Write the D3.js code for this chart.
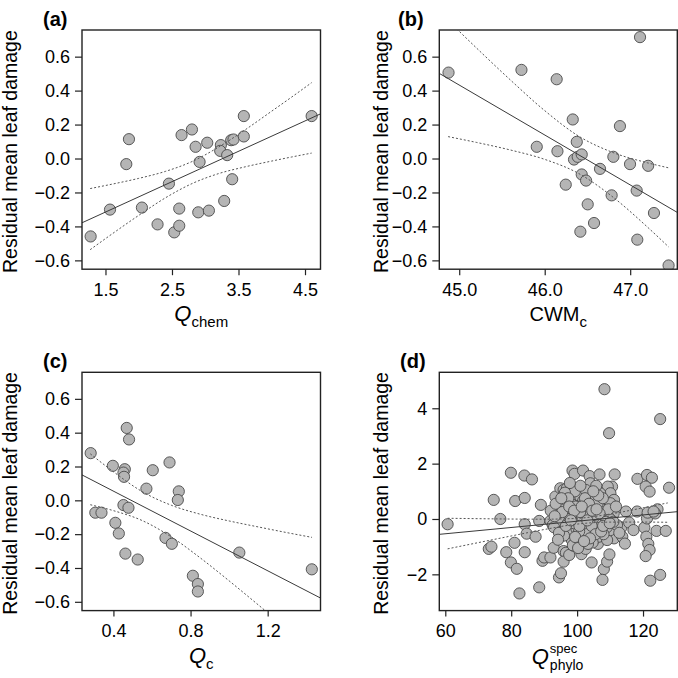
<!DOCTYPE html>
<html><head><meta charset="utf-8">
<script src="https://cdn.jsdelivr.net/npm/d3@7"></script>
<style>
body{margin:0;background:#fff}
svg{display:block}
text{font-family:"Liberation Sans",Arial,Helvetica,sans-serif;fill:#000}
</style>
</head><body><div id="chart"></div>
<script>
// ---------------- DATA ----------------
// Panel (a): Q_chem vs residual mean leaf damage
const aPoints = [[1.277,-0.459],[1.568,-0.301],[1.853,0.114],[1.813,-0.033],[2.048,-0.289],[2.283,-0.388],[2.454,-0.148],[2.534,-0.435],[2.609,-0.396],[2.609,-0.295],[2.644,0.138],[2.80,0.171],[2.855,0.069],[2.895,-0.317],[2.915,-0.020],[3.03,0.093],[3.055,-0.307],[3.235,0.079],[3.225,0.045],[3.285,-0.25],[3.33,0.020],[3.39,0.108],[3.425,0.112],[3.405,-0.122],[3.58,0.25],[3.58,0.130],[4.60,0.25]];
const aFitX = [1.10, 4.75];
const aFitY = [-0.387, 0.266];
const aBandX = [1.27,1.6,2.0,2.4,2.8,3.2,3.6,4.0,4.3,4.6];
const aUpper = [-0.177,-0.151,-0.117,-0.076,-0.018,0.067,0.169,0.279,0.362,0.447];
const aLower = [-0.537,-0.444,-0.335,-0.232,-0.148,-0.089,-0.049,-0.015,0.009,0.032];
const aXTicks = [1.5,2.5,3.5,4.5];

// Panel (b): CWM_c
const bPoints = [[44.875,0.506],[45.728,0.522],[46.14,0.467],[45.907,0.069],[46.149,0.043],[46.328,0.230],[46.375,0.098],[46.343,-0.006],[46.386,0.010],[46.433,0.024],[46.246,-0.154],[46.433,-0.094],[46.484,-0.130],[46.503,-0.270],[46.417,-0.431],[46.577,-0.380],[46.647,-0.061],[46.803,0.010],[46.783,-0.217],[46.88,0.191],[46.998,-0.033],[47.076,-0.189],[47.083,-0.478],[47.21,-0.043],[47.115,0.715],[47.278,-0.321],[47.449,-0.630]];
const bFitX = [44.70, 47.60];
const bFitY = [0.521, -0.332];
const bBandX = [44.87,45.2,45.6,46.0,46.4,46.8,47.2,47.45];
const bUpper = [0.813,0.652,0.462,0.282,0.131,0.035,-0.025,-0.055];
const bLower = [0.129,0.095,0.050,-0.005,-0.089,-0.228,-0.403,-0.521];
const bXTicks = [45.0,46.0,47.0];

// Panel (c): Q_c
const cPoints = [[0.282,0.279],[0.306,-0.073],[0.338,-0.073],[0.397,0.204],[0.410,-0.133],[0.428,-0.196],[0.452,-0.028],[0.459,0.184],[0.452,0.164],[0.455,0.139],[0.469,0.428],[0.481,0.360],[0.478,-0.044],[0.462,-0.315],[0.526,-0.350],[0.571,0.069],[0.604,0.178],[0.670,-0.222],[0.703,-0.257],[0.691,0.224],[0.739,0.053],[0.734,0.002],[0.812,-0.446],[0.838,-0.495],[0.838,-0.539],[1.053,-0.309],[1.429,-0.408]];
const cFitX = [0.20, 1.50];
const cFitY = [0.172, -0.593];
const cBandX = [0.28,0.4,0.55,0.7,0.85,1.0,1.15,1.3,1.43];
const cUpper = [0.275,0.169,0.051,-0.029,-0.082,-0.122,-0.157,-0.191,-0.219];
const cLower = [-0.026,-0.061,-0.120,-0.216,-0.340,-0.476,-0.617,-0.760,-0.886];
const cXTicks = [0.4,0.8,1.2];

// Panel (d): Q_phylo^spec
const dPoints = [[60.7,-0.19],[74.7,0.69],[73.2,-1.08],[74.0,-1.0],[76.7,0.0],[78.5,-1.2],[79.9,1.67],[81.2,0.65],[79.9,-1.57],[81.0,-0.86],[81.7,-1.8],[82.5,-2.69],[84.0,1.57],[86.3,1.43],[84.1,0.76],[84.1,-0.19],[84.7,-0.53],[84.1,-1.2],[87.4,-0.64],[88.5,-2.47],[89.0,0.51],[88.5,-0.07],[89.5,-1.51],[90.0,-1.39],[91.9,-1.39],[92.9,-1.04],[94.5,-2.11],[95.1,-1.96],[95.9,-1.16],[96.6,-1.22],[95.9,-1.54],[97.6,-1.30],[98.8,-0.96],[98.6,1.75],[99.2,1.63],[101.8,1.75],[103.8,1.55],[103.5,1.17],[106.8,1.61],[108.3,4.69],[109.7,3.10],[111.4,1.61],[110.6,1.17],[109.3,1.17],[110.1,0.93],[101.3,-1.27],[102.6,-1.08],[104.4,-1.57],[106.3,-0.90],[108.1,-1.81],[109.1,-1.54],[107.7,-2.20],[109.8,-1.28],[111.2,-0.70],[111.2,0.69],[113.4,-0.31],[114.8,0.27],[113.7,-0.64],[114.5,-0.89],[115.8,-0.13],[117.1,-0.40],[118.2,0.27],[118.3,1.45],[120.4,-0.31],[121.2,1.59],[122.7,1.49],[120.8,1.17],[122.0,0.99],[121.2,0.02],[121.4,0.23],[121.0,-0.64],[121.6,-0.90],[122.0,-1.12],[120.8,-1.34],[122.2,-2.23],[125.2,-2.02],[125.2,3.61],[127.9,1.13],[124.4,0.35],[123.7,0.20],[124.1,-0.43],[126.9,-0.43],[123.2,0.27],
[91.9,-0.07],[92.6,-0.22],[93.4,0.81],[94.9,1.11],[95.9,1.05],[96.9,1.11],[94.4,0.45],[95.9,0.20],[95.4,-0.40],[96.9,-0.52],[97.9,-0.28],[98.4,0.57],[99.9,0.81],[100.4,1.11],[103.0,0.87],[104.0,1.29],[105.5,0.57],[107.0,0.93],[108.1,0.51],[109.1,0.20],[110.1,0.57],[111.1,0.20],[108.1,0.20],[106.6,-0.10],[105.5,-0.28],[104.0,-0.04],[103.0,-0.64],[101.5,-0.76],[99.9,-0.88],[98.4,-0.76],[105.0,-0.76],[106.6,-0.64],[109.1,-0.76],[110.1,-0.40],[112.1,-0.22],
[98,0.3],[99,0.1],[99.5,-0.2],[100,0.4],[100.5,0.0],[101,-0.3],[101.5,0.2],[102,0.5],[102.5,-0.1],[103,0.3],[103.5,-0.4],[104,0.1],[104.5,0.6],[105,-0.2],[105.5,0.3],[106,0.0],[97,0.0],[97.5,-0.3],[96,0.5],[96.5,0.7],[95,-0.1],[94,0.2],[93,-0.3],[92,0.3],[98.5,-0.5],[99,0.7],[100,-0.6],[101,0.8],[102,-0.4],[103,0.9],[104,-0.5],[105,0.8],[106,-0.4],[107,0.4],[107.5,-0.2],[108.5,0.1],[109,-0.3],[110,0.0],[96,-0.6],[97,0.9],[100.2,0.15],[101.2,-0.05],[102.2,0.25],[103.2,-0.25],[104.2,0.35],[99.8,-0.35],[98.2,0.55],[97.2,-0.15],[101.8,0.65],[103.8,0.05],[100.8,0.45],[102.8,-0.55],[105.2,0.15],[106.2,0.55],[94.5,-0.5],[93.5,0.55],[95.5,0.25],[108,-0.55],[109.5,0.35],[111,-0.1],[99.3,1.0],[102.6,1.05],[104.7,-0.85],[98.7,-0.95],[101,1.2],[97.8,1.3],[105.8,1.2],[100.3,-1.05],[103.3,-0.9],
[96.3,0.95],[97.3,0.75],[99.6,0.45],[100.6,-0.45],[102.4,0.75],[104.4,-0.25],[105.6,-0.55],[106.8,0.2],[107.8,0.75],[98.9,-0.15],[101.6,0.05],[103.6,0.55],[102.9,0.15],[100.9,0.25],[99.4,-0.65],[97.6,0.45],[96.6,-0.25],[95.2,0.75],[94.2,-0.75],[93.2,0.1],[108.8,-0.1],[107.3,-0.45],[106.4,0.85],[104.9,1.0],[103.9,-0.7],[102.1,-0.8],[100.7,-0.25],[99.1,0.3],[98.1,-0.05],[101.4,0.45],[103.1,-0.05],[104.6,0.3],[105.9,0.35],[107.9,-0.25],[109.9,-0.15],[111.8,0.45],[112.8,-0.5]];
const dFitX = [58.0, 131.0];
const dFitY = [-0.557, 0.271];
const dBandX = [60.7,70,80,90,100,110,120,127.5];
const dUpper = [0.026,0.0115,-0.0017,-0.0075,0.0225,0.178,0.403,0.581];
const dLower = [-1.079,-0.854,-0.614,-0.381,-0.184,-0.113,-0.111,-0.119];
const dXTicks = [60,80,100,120];

const yTicksABC = [-0.6,-0.4,-0.2,0.0,0.2,0.4,0.6];
const yTicksD = [-2,0,2,4];
const yTitle = "Residual mean leaf damage";
const panelLabels = ["(a)","(b)","(c)","(d)"];

// ---------------- DRAW ----------------
const svg = d3.select('#chart').append('svg').attr('width',678).attr('height',678);
svg.append('rect').attr('width',678).attr('height',678).attr('fill','#fff');

const colL = [82, 320.5], colR = [439.3, 677.3];
const rowT = [30, 269.2], rowB = [372.3, 610.6];

const panels = [
  {id:'a', label:panelLabels[0], xr:colL, yr:rowT, xd:[1.147,4.733], yd:[-0.652,0.757], pts:aPoints, fx:aFitX, fy:aFitY, bx:aBandX, bu:aUpper, bl:aLower, xt:aXTicks, yt:yTicksABC, xf:d3.format('.1f'), yf:d3.format('.1f'), title:'chem', lblX:43, ytX:17},
  {id:'b', label:panelLabels[1], xr:colR, yr:rowT, xd:[44.767,47.551], yd:[-0.652,0.757], pts:bPoints, fx:bFitX, fy:bFitY, bx:bBandX, bu:bUpper, bl:bLower, xt:bXTicks, yt:yTicksABC, xf:d3.format('.1f'), yf:d3.format('.1f'), title:'cwm', lblX:398, ytX:388},
  {id:'c', label:panelLabels[2], xr:colL, yr:rowB, xd:[0.237,1.474], yd:[-0.652,0.757], pts:cPoints, fx:cFitX, fy:cFitY, bx:cBandX, bu:cUpper, bl:cLower, xt:cXTicks, yt:yTicksABC, xf:d3.format('.1f'), yf:d3.format('.1f'), title:'c', lblX:43, ytX:17},
  {id:'d', label:panelLabels[3], xr:colR, yr:rowB, xd:[58.18,130.4], yd:[-3.31,5.30], pts:dPoints, fx:dFitX, fy:dFitY, bx:dBandX, bu:dUpper, bl:dLower, xt:dXTicks, yt:yTicksD, xf:d3.format('d'), yf:d3.format('d'), title:'phylo', lblX:400, ytX:388}
];

const TICKFONT = 18;

panels.forEach(p => {
  const x = d3.scaleLinear().domain(p.xd).range(p.xr);
  const y = d3.scaleLinear().domain(p.yd).range([p.yr[1], p.yr[0]]);
  const g = svg.append('g');
  const clipId = 'clip-' + p.id;
  svg.append('defs').append('clipPath').attr('id', clipId)
    .append('rect').attr('x', p.xr[0]).attr('y', p.yr[0])
    .attr('width', p.xr[1]-p.xr[0]).attr('height', p.yr[1]-p.yr[0]);
  const plot = g.append('g').attr('clip-path', `url(#${clipId})`);

  plot.selectAll('circle').data(p.pts).join('circle')
    .attr('cx', d => x(d[0])).attr('cy', d => y(d[1])).attr('r', 5.6)
    .attr('fill', '#b5b5b5').attr('stroke', '#4a4a4a').attr('stroke-width', 0.9);

  const curve = d3.line().x(d => x(d[0])).y(d => y(d[1])).curve(d3.curveMonotoneX);
  [p.bu, p.bl].forEach(band => {
    plot.append('path').datum(d3.zip(p.bx, band)).attr('d', curve)
      .attr('fill','none').attr('stroke','#555').attr('stroke-width',1)
      .attr('stroke-dasharray','2,2');
  });
  plot.append('path').datum(d3.zip(p.fx, p.fy))
    .attr('d', d3.line().x(d => x(d[0])).y(d => y(d[1])))
    .attr('fill','none').attr('stroke','#3a3a3a').attr('stroke-width',1);

  // box
  g.append('rect').attr('x', p.xr[0]).attr('y', p.yr[0])
    .attr('width', p.xr[1]-p.xr[0]).attr('height', p.yr[1]-p.yr[0])
    .attr('fill','none').attr('stroke','#222').attr('stroke-width',1.4);

  // axes
  const xa = g.append('g').attr('transform', `translate(0,${p.yr[1]})`)
    .call(d3.axisBottom(x).tickValues(p.xt).tickFormat(p.xf).tickSize(6).tickPadding(8));
  const ya = g.append('g').attr('transform', `translate(${p.xr[0]},0)`)
    .call(d3.axisLeft(y).tickValues(p.yt).tickFormat(p.yf).tickSize(7).tickPadding(5));
  [xa, ya].forEach(a => {
    a.select('.domain').remove();
    a.selectAll('line').attr('stroke','#222').attr('stroke-width',1.2);
    a.selectAll('text').attr('font-size', TICKFONT).attr('font-family','"Liberation Sans",Arial,sans-serif').attr('fill','#000');
  });

  // y title
  const cy = (p.yr[0] + p.yr[1]) / 2 + 2;
  g.append('text').attr('transform', `translate(${p.ytX},${cy}) rotate(-90)`)
    .attr('text-anchor','middle').attr('font-size', 19.5).text(yTitle);

  // panel label
  g.append('text').attr('x', p.lblX).attr('y', p.yr[0] - 4)
    .attr('font-size', 20).attr('font-weight','bold').text(p.label);

  // x title
  const cx = (p.xr[0] + p.xr[1]) / 2;
  const by = p.yr[1] + 52;
  const t = g.append('text').attr('y', by).attr('text-anchor','middle');
  if (p.title === 'cwm') {
    t.attr('x', cx).attr('font-size', 20);
    t.append('tspan').text('CWM');
    t.append('tspan').attr('font-size', 15).attr('dy', 6).text('c');
  } else if (p.title === 'phylo') {
    const tq = g.append('text').attr('y', by + 1).attr('font-size', 22).attr('font-style','italic').text('Q');
    const qw = tq.node().getComputedTextLength();
    const sw = 36;
    const left = cx - (qw + sw) / 2;
    tq.attr('x', left);
    g.append('text').attr('x', left + qw + 1).attr('y', by - 10).attr('font-size', 13).text('spec');
    g.append('text').attr('x', left + qw + 1).attr('y', by + 7).attr('font-size', 14).text('phylo');
    t.remove();
  } else {
    t.attr('x', cx);
    t.append('tspan').attr('font-size', 22).attr('font-style','italic').text('Q');
    t.append('tspan').attr('font-size', 15).attr('dy', 6).text(p.title);
  }
});
</script>
</body></html>
